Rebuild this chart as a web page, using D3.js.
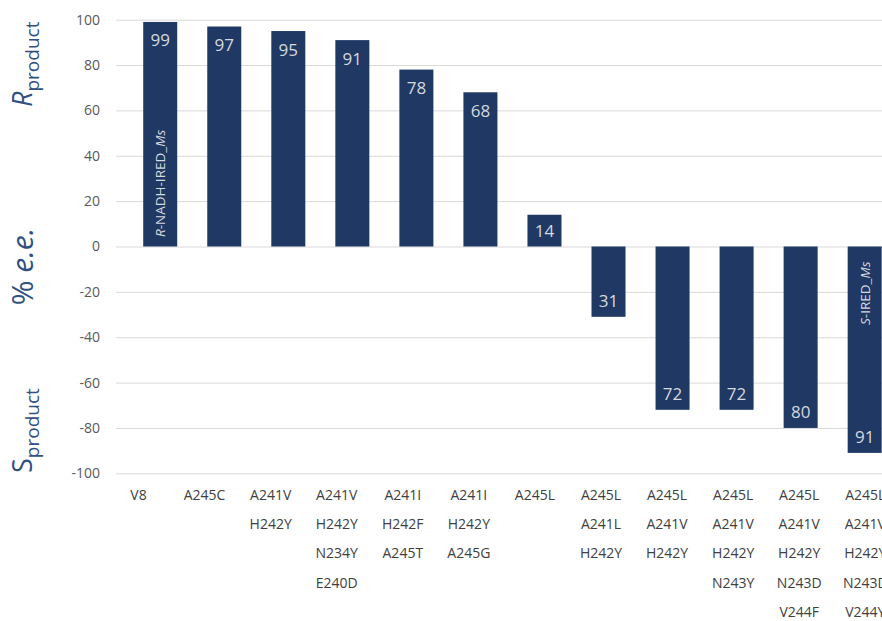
<!DOCTYPE html>
<html>
<head>
<meta charset="utf-8">
<script src="https://cdn.jsdelivr.net/npm/d3@7"></script>
<style>
  body { margin: 0; background: #fff; }
  svg { display: block; font-family: "Open Sans", sans-serif; }
</style>
</head>
<body>
<div id="chart"></div>
<script>
// variants (one line per mutation in the x label)
var variants = [
  ["V8"],
  ["A245C"],
  ["A241V", "H242Y"],
  ["A241V", "H242Y", "N234Y", "E240D"],
  ["A241I", "H242F", "A245T"],
  ["A241I", "H242Y", "A245G"],
  ["A245L"],
  ["A245L", "A241L", "H242Y"],
  ["A245L", "A241V", "H242Y"],
  ["A245L", "A241V", "H242Y", "N243Y"],
  ["A245L", "A241V", "H242Y", "N243D", "V244F"],
  ["A245L", "A241V", "H242Y", "N243D", "V244Y"]
];

// % e.e. (positive = R product, negative = S product)
var ee = [99, 97, 95, 91, 78, 68, 14, -31, -72, -72, -80, -91];

var yTicks = [-100, -80, -60, -40, -20, 0, 20, 40, 60, 80, 100];

// reference enzymes written inside bars
var barNotes = [
  {index: 0, parts: [["R", true], ["-NADH-IRED_", false], ["Ms", true]]},
  {index: 11, parts: [["S", true], ["-IRED_", false], ["Ms", true]]}
];

var width = 882, height = 621;
var barColor = "#203864", textInBar = "#d6d9de", titleColor = "#2f5080";

var svg = d3.select("#chart").append("svg")
    .attr("width", width)
    .attr("height", height);

var ids = d3.range(ee.length);

//bar positions
var x = d3.scaleBand()
    .domain(ids)
    .range([128.2, 896.7])
    .paddingInner(0.469)
    .paddingOuter(0.2345);

//category labels sit on a slightly wider grid than the bars
var xLab = d3.scaleBand()
    .domain(ids)
    .range([105.5, 898.3]);

var y = d3.scaleLinear().domain([-100, 100]).range([473.3, 19.7]);

//gridlines + tick labels (plain hyphen for negatives)
var yAxis = svg.append("g")
    .attr("transform", "translate(116,0)")
    .call(d3.axisLeft(y).tickValues(yTicks).tickFormat(function(d) { return String(d); })
      .tickSize(-(width - 116)).tickPadding(16));
yAxis.select(".domain").remove();
yAxis.selectAll(".tick line").attr("stroke", "#d9d9d9");
yAxis.selectAll(".tick text")
    .attr("fill", "#595959")
    .style("font-size", "14px")
    .style("font-family", "Open Sans, sans-serif");

//bars
svg.append("g").selectAll("rect")
    .data(ids)
    .join("rect")
    .attr("x", function(i) { return x(i); })
    .attr("width", x.bandwidth())
    .attr("y", function(i) { return y(Math.max(0, ee[i])); })
    .attr("height", function(i) { return Math.abs(y(ee[i]) - y(0)); })
    .attr("fill", barColor);

//value labels inside bars (absolute value)
svg.append("g").selectAll("text")
    .data(ids)
    .join("text")
    .attr("x", function(i) { return x(i) + x.bandwidth() / 2; })
    .attr("y", function(i) {
      var h = Math.abs(y(ee[i]) - y(0));
      if (ee[i] >= 0) {
        if (h < 40) return (y(ee[i]) + y(0)) / 2 + 6;
        return y(ee[i]) + 24.5;
      }
      return y(ee[i]) - 10;
    })
    .attr("text-anchor", "middle")
    .attr("fill", textInBar)
    .style("font-size", "17px")
    .text(function(i) { return Math.abs(ee[i]); });

//rotated enzyme names inside bars
barNotes.forEach(function(n) {
  var cx = x(n.index) + x.bandwidth() / 2 + 5;
  var y0 = n.index === 0 ? 237 : 325;
  var t = svg.append("text")
      .attr("transform", "translate(" + cx + "," + y0 + ") rotate(-90)")
      .attr("fill", textInBar)
      .style("font-size", "13.5px");
  n.parts.forEach(function(p) {
    t.append("tspan").style("font-style", p[1] ? "italic" : "normal").text(p[0]);
  });
});

//x axis labels (multi-line)
var xAxis = svg.append("g")
    .attr("transform", "translate(0,473.3)")
    .call(d3.axisBottom(xLab).tickSize(0).tickFormat(""));
xAxis.select(".domain").remove();
xAxis.selectAll(".tick").each(function(i) {
  var t = d3.select(this).append("text")
      .attr("text-anchor", "middle")
      .attr("fill", "#404040")
      .style("font-size", "14px")
      .style("font-family", "Open Sans, sans-serif");
  variants[i].forEach(function(line, k) {
    t.append("tspan").attr("x", 0).attr("y", 26.7 + k * 29.2).text(line);
  });
});

//y title in three pieces
function subTitle(big, yStart) {
  var t = svg.append("text")
      .attr("transform", "translate(32," + yStart + ") rotate(-90)")
      .attr("fill", titleColor);
  t.append("tspan").style("font-size", "27px").style("font-style", big === "R" ? "italic" : "normal").text(big);
  t.append("tspan").style("font-size", "19px").attr("dy", 7).text("product");
}
subTitle("R", 107);
subTitle("S", 473);

var mid = svg.append("text")
    .attr("transform", "translate(33,266.5) rotate(-90)")
    .attr("text-anchor", "middle")
    .attr("fill", titleColor)
    .style("font-size", "30px");
mid.append("tspan").text("% ");
mid.append("tspan").style("font-style", "italic").text("e.e.");
</script>
</body>
</html>
